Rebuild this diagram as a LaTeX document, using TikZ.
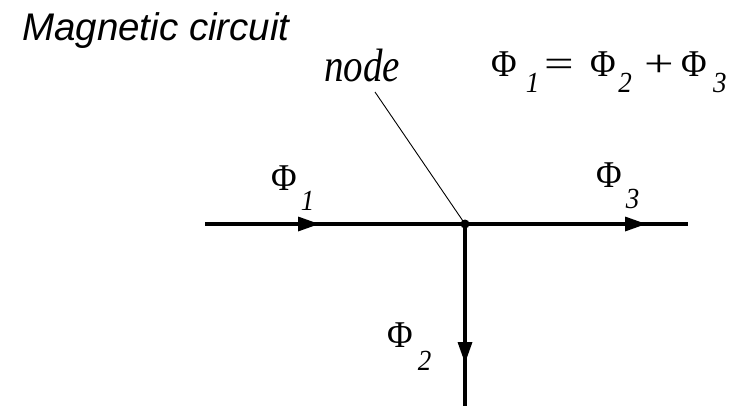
\documentclass[tikz,border=0pt]{standalone}
\usepackage{fontspec}
\setmainfont{Liberation Serif}
\newfontfamily\arialfont{Liberation Sans}
\usetikzlibrary{decorations.markings}
\newcommand\fsub[2][14pt]{\raisebox{-#1}{\fontsize{27pt}{30pt}\selectfont\itshape #2}}
\newcommand\tall[1]{\scalebox{1}[1.08]{#1}}
\newcommand\wideop[1]{\scalebox{1.5}[1]{#1}}
\begin{document}
\begin{tikzpicture}[x=1pt,y=-1pt,
  flux/.style={line width=4.5pt, line cap=butt, postaction={decorate},
    decoration={markings, mark=at position #1 with {\fill (1pt,0) -- (-20pt,7.5pt) -- (-20pt,-7.5pt) -- cycle;}}},
  lbl/.style={inner sep=0pt, font=\fontsize{35pt}{40pt}\selectfont}]
\useasboundingbox (0,0) rectangle (733,406);
\fill[white] (0,0) rectangle (733,406);
\coordinate (W) at (205,224);
\coordinate (J) at (465,224);
\coordinate (E) at (688,224);
\coordinate (S) at (465,406);
\coordinate (L) at (375,92);
\draw[flux=113pt] (W) -- (J);
\draw[flux=180pt] (J) -- (E);
\draw[flux=138pt] (J) -- (S);
\draw[line width=0.9pt] (L) -- (J);
\fill (J) circle (4.5pt);
\node[anchor=base west, inner sep=0pt, font=\arialfont\itshape\fontsize{38.5pt}{44pt}\selectfont] (title) at (22,41) {Magnetic circuit};
\node[anchor=base west, inner sep=0pt, font=\itshape\fontsize{39pt}{46pt}\selectfont] (nodelbl) at (324,82) {\scalebox{1}[1.2]{node}};
\node[anchor=base west, lbl] (eq) at (491,77) {\tall{Φ\hspace{9pt}\fsub{1}\hspace{5pt}\wideop{=}\hspace{17pt}Φ\hspace{2pt}\fsub{2}\hspace{13pt}\wideop{+}\hspace{7pt}Φ\hspace{6pt}\fsub{3}}};
\node[anchor=base west, lbl] (p1) at (271,190) {\tall{Φ\hspace{4pt}\fsub[19pt]{1}}};
\node[anchor=base west, lbl] (p3) at (596,188) {\tall{Φ\hspace{4pt}\fsub[19pt]{3}}};
\node[anchor=base west, lbl] (p2) at (387,347) {\tall{Φ\hspace{5pt}\fsub[22pt]{2}}};
\end{tikzpicture}
\end{document}
